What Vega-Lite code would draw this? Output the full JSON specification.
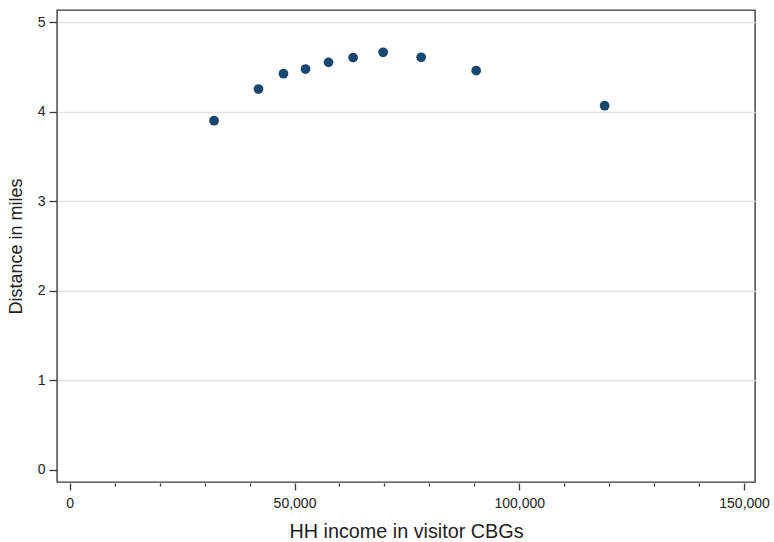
{
  "$schema": "https://vega.github.io/schema/vega-lite/v6.json",
  "width": 698,
  "height": 472,
  "autosize": {"type": "none"},
  "padding": {"left": 57, "top": 10, "right": 19, "bottom": 60},
  "background": "white",
  "config": {
    "view": {"stroke": "#3a3a3a", "strokeWidth": 1.4},
    "font": "Liberation Sans",
    "axis": {"labelColor": "#222", "titleColor": "#222", "labelFont": "Liberation Sans", "titleFont": "Liberation Sans", "titleFontWeight": "normal"}
  },
  "data": {
    "values": [
      {"income": 32110, "distance": 3.898},
      {"income": 41990, "distance": 4.252},
      {"income": 47550, "distance": 4.423},
      {"income": 52450, "distance": 4.475},
      {"income": 57565, "distance": 4.550},
      {"income": 63040, "distance": 4.602},
      {"income": 69715, "distance": 4.662},
      {"income": 78170, "distance": 4.606},
      {"income": 90410, "distance": 4.457},
      {"income": 118980, "distance": 4.066}
    ]
  },
  "mark": {"type": "point", "filled": true, "shape": "circle", "size": 95, "color": "#1a476f", "opacity": 1},
  "encoding": {
    "x": {
      "field": "income",
      "type": "quantitative",
      "scale": {"domain": [-2830, 152430], "nice": false, "zero": false},
      "axis": {
        "title": "HH income in visitor CBGs",
        "values": [0, 10000, 20000, 30000, 40000, 50000, 60000, 70000, 80000, 90000, 100000, 110000, 120000, 130000, 140000, 150000],
        "format": ",d",
        "labelExpr": "datum.value % 50000 === 0 ? datum.label : ''",
        "grid": false,
        "domain": false,
        "offset": 1,
        "tickColor": "#3a3a3a",
        "tickWidth": 1.3,
        "tickSize": {"condition": {"test": "datum.value % 50000 === 0", "value": 7}, "value": 3},
        "labelFontSize": 14,
        "labelPadding": 6,
        "labelOverlap": false,
        "labelFlush": false,
        "titleFontSize": 19.8,
        "titlePadding": 11
      }
    },
    "y": {
      "field": "distance",
      "type": "quantitative",
      "scale": {"domain": [-0.134, 5.134], "nice": false, "zero": false},
      "axis": {
        "title": "Distance in miles",
        "values": [0, 1, 2, 3, 4, 5],
        "grid": true,
        "gridColor": {"condition": {"test": "datum.value === 0", "value": "transparent"}, "value": "#e3e3e3"},
        "gridWidth": 1.5,
        "domain": false,
        "tickColor": "#3a3a3a",
        "tickWidth": 1.3,
        "tickSize": 8,
        "labelFontSize": 14,
        "labelPadding": 4,
        "labelAngle": 0,
        "titleFontSize": 18,
        "titlePadding": 12
      }
    }
  }
}
